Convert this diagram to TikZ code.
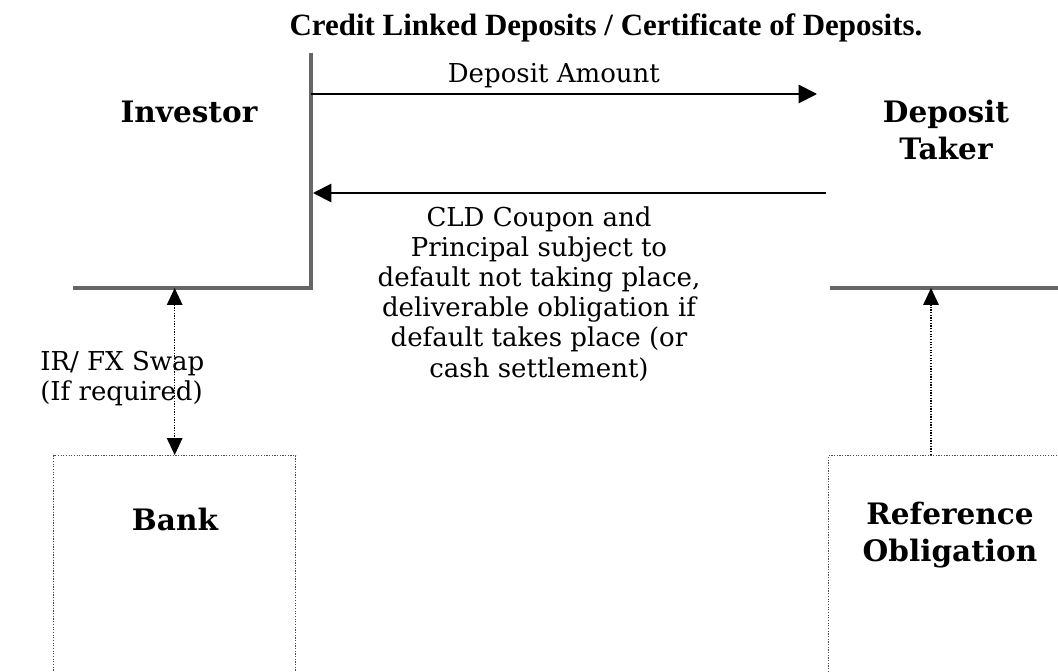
\documentclass[tikz,border=0pt]{standalone}
\usepackage{fontspec}
\setmainfont{DejaVu Serif}
\newfontfamily\titlefont{Liberation Serif}
\usetikzlibrary{arrows.meta,calc}

\begin{document}
\begin{tikzpicture}[x=0.025cm,y=-0.025cm,
    >={Triangle[length=13pt,width=13pt]},
    party/.style={font=\bfseries\fontsize{21}{26}\selectfont,
                  align=center, inner sep=0pt},
    flowlbl/.style={font=\fontsize{18.5}{21.5}\selectfont, inner sep=0pt},
    invline/.style={line width=2.2pt, black!60},
    flow/.style={->, line width=1.3pt},
    dotflow/.style={densely dotted, line width=0.9pt,
                    >={Triangle[length=12pt,width=11pt]}},
    obox/.style={draw, densely dotted, black!70, line width=0.9pt,
                 anchor=north west, minimum height=6cm}]

    \useasboundingbox (0,0) rectangle (1058,671);
    \clip (0,0) rectangle (1058,671);

    % -- Title --
    \node[font=\titlefont\bfseries\fontsize{22}{26}\selectfont,
          anchor=base] (title) at (606,35)
        {Credit Linked Deposits / Certificate of Deposits.};

    % -- Parties --
    % Investor on the left, deposit taker on the right
    \node[party] (inv) at (189,112) {Investor};
    \node[party, anchor=north] (dt) at (946,100) {Deposit\\Taker};

    % Bank and reference obligation boxes below
    \node[obox, minimum width=6.05cm] (bankbox) at (53,455) {};
    \node[obox, minimum width=6.5cm] (refbox) at (828,455) {};
    \node[party, anchor=base] (bank) at (175,530) {Bank};
    \node[party, anchor=north] (refob) at (950,502)
        {Reference\\Obligation};

    % -- Edges of the investor and deposit taker --
    \coordinate (invtop) at (311,53);
    \coordinate (invcnr) at (311,288);
    \coordinate (invend) at (73,288);
    \coordinate (dtend) at (830,288);
    \coordinate (dtedge) at (1060,288);
    \draw[invline] (invtop) -- (invcnr) -- (invend);
    \draw[invline] (dtend) -- (dtedge);

    % -- Flows between investor and deposit taker --
    % Deposit amount to the deposit taker
    \coordinate (payout) at (311,94);
    \coordinate (payin) at (817,94);
    \draw[flow] (payout) -- node[flowlbl, above=3.5pt, pos=0.48]
        {Deposit Amount} (payin);

    % Coupon and principal back to the investor
    \coordinate (cpnout) at (826,193);
    \coordinate (cpnin) at (313,193);
    \draw[flow] (cpnout) -- (cpnin);
    \node[flowlbl, align=center, anchor=north] (cpn) at (539,206)
        {CLD Coupon and\\Principal subject to\\default not taking place,\\
         deliverable obligation if\\default takes place (or\\cash settlement)};

    % -- Swap with the bank, link to the reference obligation --
    \draw[dotflow, <->] (bankbox.north |- invcnr) -- (bankbox.north);
    \node[flowlbl, align=left, anchor=north west] (swp) at (40,351)
        {IR/ FX Swap\\(If required)};

    \coordinate (refup) at (931,288);
    \draw[dotflow, ->] (refbox.north west -| refup) -- (refup);

\end{tikzpicture}
\end{document}
